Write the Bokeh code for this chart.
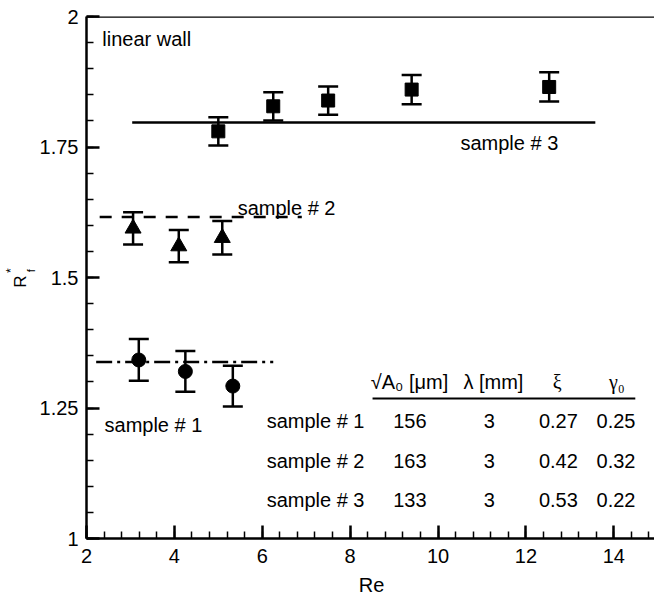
import math
from bokeh.plotting import figure
from bokeh.models import (Range1d, FixedTicker, CustomJSTickFormatter, Whisker, TeeHead,
                          ColumnDataSource, Label, Span)
from bokeh.embed import file_html
from bokeh.resources import INLINE

# ---------------- data ----------------
s1_re = [3.19, 4.25, 5.33]
s1_rf = [1.342, 1.320, 1.292]
s1_err = [0.040, 0.039, 0.039]

s2_re = [3.06, 4.10, 5.09]
s2_rf = [1.594, 1.560, 1.576]
s2_err = [0.031, 0.031, 0.032]

s3_re = [5.0, 6.25, 7.5, 9.4, 12.53]
s3_rf = [1.780, 1.828, 1.839, 1.860, 1.865]
s3_err = [0.027, 0.027, 0.027, 0.028, 0.028]

# mean lines (Re start, Re end, Rf level)
mean1 = ([2.22, 6.25], [1.338, 1.338])
mean2 = ([2.30, 6.90], [1.616, 1.616])
mean3 = ([3.04, 13.58], [1.797, 1.797])

x_major = [2, 4, 6, 8, 10, 12, 14]
x_minor = [2 + 0.4 * i for i in range(33)]
y_major = [1, 1.25, 1.5, 1.75, 2]
y_minor = [1 + 0.05 * i for i in range(21)]

table_header = ["\u221aA\u2080 [\u03bcm]", "\u03bb [mm]", "\u03be", "\u03b3\u2080"]
table_rows = ["sample # 1", "sample # 2", "sample # 3"]
table_vals = [["156", "3", "0.27", "0.25"],
              ["163", "3", "0.42", "0.32"],
              ["133", "3", "0.53", "0.22"]]

FONT = "Liberation Sans"
SERIF = "Liberation Serif"
FS = "20px"

p = figure(width=654, height=597, output_backend="svg", toolbar_location=None,
           x_range=Range1d(2, 14.927), y_range=Range1d(1, 2),
           min_border_left=86, min_border_top=16, min_border_bottom=59, min_border_right=0)
p.outline_line_color = None
p.grid.visible = False
p.background_fill_color = "white"

for ax in (p.xaxis[0], p.yaxis[0]):
    ax.axis_line_width = 2.5
    ax.axis_line_color = "black"
    ax.major_tick_line_width = 2.5
    ax.minor_tick_line_width = 1.5
    ax.major_tick_in = 13
    ax.major_tick_out = 0
    ax.minor_tick_in = 7
    ax.minor_tick_out = 0
    ax.major_label_text_font = FONT
    ax.major_label_text_font_size = FS
    ax.major_label_text_color = "black"
    ax.formatter = CustomJSTickFormatter(code="return tick.toString();")

p.xaxis[0].ticker = FixedTicker(ticks=x_major, minor_ticks=x_minor)
p.yaxis[0].ticker = FixedTicker(ticks=y_major, minor_ticks=y_minor)
p.xaxis[0].major_label_standoff = 10
p.yaxis[0].major_label_standoff = 8

p.add_layout(Span(location=2, dimension="width", line_color="black", line_width=2.5))

# mean lines
p.line(mean3[0], mean3[1], line_color="black", line_width=2.5)
p.line(mean2[0], mean2[1], line_color="black", line_width=2.5, line_dash="12 10")
p.line(mean1[0], mean1[1], line_color="black", line_width=2.5, line_dash="16 5 3 5")

def add_series(xs, ys, errs, marker, size):
    src = ColumnDataSource(dict(x=xs, y=ys,
                                lo=[y - e for y, e in zip(ys, errs)],
                                hi=[y + e for y, e in zip(ys, errs)]))
    w = Whisker(source=src, base="x", upper="hi", lower="lo", dimension="height",
                line_color="black", line_width=2.5,
                upper_head=TeeHead(size=20, line_width=2.5, line_color="black"),
                lower_head=TeeHead(size=20, line_width=2.5, line_color="black"))
    p.add_layout(w)
    p.scatter("x", "y", source=src, marker=marker, size=size,
              fill_color="black", line_color="black")

add_series(s1_re, s1_rf, s1_err, "circle", 14)
add_series(s2_re, s2_rf, s2_err, "triangle", 16)
add_series(s3_re, s3_rf, s3_err, "square", 13)

def lab(x, y, t, align="left", size=FS, font=FONT, angle=0.0, place="center"):
    l = Label(x=x, y=y, text=t, text_align=align, text_baseline="middle",
              text_font=font, text_font_size=size, text_color="black", angle=angle)
    p.add_layout(l, place)

lab(2.36, 1.956, "linear wall")
lab(10.51, 1.757, "sample # 3")
lab(5.44, 1.634, "sample # 2")
lab(2.41, 1.218, "sample # 1")

# table
hdr_x = [9.35, 11.26, 12.71, 14.07]
hdr_font = [FONT, FONT, SERIF, SERIF]
val_x = [9.36, 11.17, 12.74, 14.05]
row_y = [1.226, 1.149, 1.073]
for hx, h, hf in zip(hdr_x, table_header, hdr_font):
    lab(hx, 1.299, h, align="center", font=hf)
p.line([8.51, 14.49], [1.268, 1.268], line_color="black", line_width=2)
for ry, name, vals in zip(row_y, table_rows, table_vals):
    lab(6.10, ry, name)
    for vx, v in zip(val_x, vals):
        lab(vx, ry, v, align="center")

# axis titles, placed in side panels so they are not clipped to the frame
lab(8.486, 0.910, "Re", align="center", place="below")
lab(0.498, 1.492, "R", align="center", size="17px", angle=math.pi / 2, place="left")
lab(0.748, 1.513, "f", align="center", size="11px", angle=math.pi / 2, place="left")
lab(0.293, 1.513, "*", align="center", size="12px", angle=math.pi / 2, place="above")

open("out.html", "w").write(file_html(p, INLINE))
